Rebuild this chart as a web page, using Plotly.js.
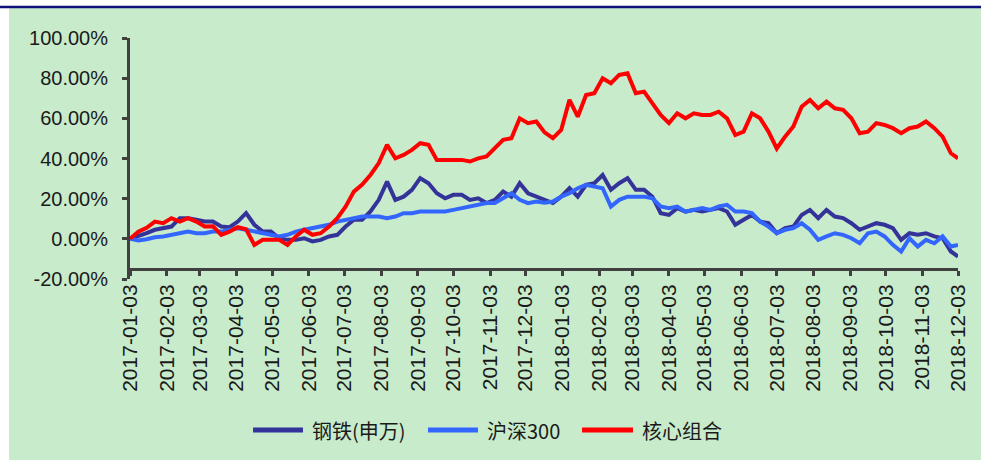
<!DOCTYPE html>
<html>
<head>
<meta charset="utf-8">
<script src="https://cdn.plot.ly/plotly-3.0.1.min.js"></script>
<style>html,body{margin:0;padding:0;background:#fff;}#chart{width:981px;height:460px;}</style>
</head>
<body>
<div id="chart"></div>
<script>
const dates = [
"2017-01-03","2017-01-10","2017-01-17","2017-01-24","2017-01-31","2017-02-07","2017-02-14","2017-02-21","2017-02-28","2017-03-07",
"2017-03-14","2017-03-21","2017-03-28","2017-04-04","2017-04-11","2017-04-18","2017-04-25","2017-05-02","2017-05-09","2017-05-16",
"2017-05-23","2017-05-30","2017-06-06","2017-06-13","2017-06-20","2017-06-27","2017-07-04","2017-07-11","2017-07-18","2017-07-25",
"2017-08-01","2017-08-08","2017-08-15","2017-08-22","2017-08-29","2017-09-05","2017-09-12","2017-09-19","2017-09-26","2017-10-03",
"2017-10-10","2017-10-17","2017-10-24","2017-10-31","2017-11-07","2017-11-14","2017-11-21","2017-11-28","2017-12-05","2017-12-12",
"2017-12-19","2017-12-26","2018-01-02","2018-01-09","2018-01-16","2018-01-23","2018-01-30","2018-02-06","2018-02-13","2018-02-20",
"2018-02-27","2018-03-06","2018-03-13","2018-03-20","2018-03-27","2018-04-03","2018-04-10","2018-04-17","2018-04-24","2018-05-01",
"2018-05-08","2018-05-15","2018-05-22","2018-05-29","2018-06-05","2018-06-12","2018-06-19","2018-06-26","2018-07-03","2018-07-10",
"2018-07-17","2018-07-24","2018-07-31","2018-08-07","2018-08-14","2018-08-21","2018-08-28","2018-09-04","2018-09-11","2018-09-18",
"2018-09-25","2018-10-02","2018-10-09","2018-10-16","2018-10-23","2018-10-30","2018-11-06","2018-11-13","2018-11-20","2018-11-27",
"2018-12-03"];

// 钢铁(申万)
const steel = [
0.0,1.2,2.8,4.5,5.3,6.1,10.3,10.3,9.5,8.6,
8.6,6.1,5.8,8.6,12.8,7.0,3.6,3.6,0.3,-0.5,
-0.5,0.3,-1.3,-0.5,1.2,2.0,6.1,9.5,9.5,13.6,
19.4,28.5,19.4,21.0,24.4,30.2,27.7,22.7,20.2,21.9,
21.9,19.4,20.2,17.8,19.4,23.5,21.0,27.7,22.7,21.0,
19.5,17.8,21.0,25.2,21.0,26.9,27.7,31.8,24.4,27.7,
30.2,24.4,24.4,21.0,12.8,11.9,15.3,13.5,14.4,13.6,
14.4,15.3,13.6,7.0,9.5,11.9,8.6,7.8,2.8,5.3,
6.1,11.9,14.4,10.3,14.4,11.1,10.3,7.8,4.5,6.1,
7.8,7.0,5.3,-0.5,2.8,2.0,2.8,1.2,0.3,-6.3,
-8.8];

// 沪深300
const hs300 = [
0.0,-0.8,-0.2,0.8,1.2,2.0,2.8,3.6,2.8,2.8,
3.6,3.6,4.5,5.3,4.5,3.6,2.8,2.0,1.2,2.0,
3.6,4.5,5.3,6.1,7.0,8.6,9.5,10.3,11.1,11.1,
11.1,10.3,11.1,12.8,12.8,13.6,13.6,13.6,13.6,14.4,
15.3,16.1,16.9,17.8,17.8,20.2,22.7,19.4,17.8,18.6,
18.0,18.6,21.0,22.7,25.2,26.9,26.0,25.2,16.1,19.4,
21.0,21.0,21.0,20.2,16.1,15.3,16.1,13.5,14.4,15.3,
14.4,16.1,16.9,13.6,13.6,12.8,8.6,6.1,2.8,4.5,
5.3,7.8,4.5,-0.5,1.2,2.8,2.0,0.3,-2.2,2.8,
3.6,1.2,-3.0,-6.3,0.3,-3.8,-0.5,-2.2,1.2,-3.8,
-3.0];

// 核心组合
const core = [
0.0,3.5,5.5,8.6,7.8,10.3,8.6,10.3,8.6,6.1,
6.3,2.0,3.6,5.8,4.8,-3.0,-0.5,-0.5,-0.5,-3.0,
1.2,4.5,2.0,2.8,6.1,10.3,16.0,23.5,27.0,31.8,
37.7,46.8,40.1,41.8,44.3,47.6,46.8,39.3,39.3,39.3,
39.3,38.5,40.1,41.0,45.1,49.3,50.1,60.0,57.6,58.4,
53.0,50.1,54.2,69.2,60.8,71.6,72.5,80.0,77.5,81.6,
82.4,72.5,73.3,67.5,61.7,57.6,62.5,60.0,62.5,61.7,
61.7,63.3,60.0,51.7,53.4,62.5,60.0,53.4,45.0,50.9,
55.9,65.8,69.2,65.0,68.3,65.0,64.2,60.0,52.6,53.4,
57.6,56.7,55.1,52.6,55.1,55.9,58.4,55.1,50.9,42.6,
40.1];

const seriesNames = ["钢铁(申万)","沪深300","核心组合"];
const seriesColors = ["#333399","#3366ff","#ff0000"];
const tickDates = ["2017-01-03","2017-02-03","2017-03-03","2017-04-03","2017-05-03","2017-06-03","2017-07-03","2017-08-03",
"2017-09-03","2017-10-03","2017-11-03","2017-12-03","2018-01-03","2018-02-03","2018-03-03","2018-04-03","2018-05-03",
"2018-06-03","2018-07-03","2018-08-03","2018-09-03","2018-10-03","2018-11-03","2018-12-03"];
const yTicks = [-20,0,20,40,60,80,100];
const yTickText = ["-20.00%","0.00%","20.00%","40.00%","60.00%","80.00%","100.00%"];

const values = [steel, hs300, core];
const traces = values.map((v,i)=>({
  x: dates, y: v, type:'scatter', mode:'lines', name: seriesNames[i],
  line:{color: seriesColors[i], width:4}, showlegend:false
}));

const fontFam = "Liberation Sans, Arial, 'Noto Sans CJK SC', sans-serif";
const cjkFam = "'Noto Sans CJK SC', Liberation Sans, sans-serif";
const axisCol = "#404040";

// custom legend (sample lines + real text), placed in paper coordinates
const legendSlots = [
  {x0:0.1486, x1:0.2089, tx:0.2174},
  {x0:0.3599, x1:0.4203, tx:0.4287},
  {x0:0.5459, x1:0.6075, tx:0.6159}
];
const legendY = -0.6266;
const legendShapes = legendSlots.map((s,i)=>({
  type:'line', xref:'paper', yref:'paper', x0:s.x0, x1:s.x1, y0:legendY, y1:legendY,
  line:{color:seriesColors[i], width:5}
}));
const legendAnnots = legendSlots.map((s,i)=>({
  xref:'paper', yref:'paper', x:s.tx, y:legendY, xanchor:'left', yanchor:'middle',
  text:seriesNames[i], showarrow:false, font:{family:cjkFam, size:20, color:"#1a1a1a"}
}));

const layout = {
  width:981, height:460,
  margin:{l:130, r:23, t:38, b:181, pad:0},
  paper_bgcolor:"#c8ebcc",
  plot_bgcolor:"rgba(0,0,0,0)",
  showlegend:false,
  font:{family:fontFam, color:"#1a1a1a", size:20},
  xaxis:{
    type:'date', range:["2017-01-03","2018-12-03"],
    tickvals: tickDates, ticktext: tickDates, tickangle:-90,
    showgrid:false, zeroline:false,
    showline:true, linecolor:axisCol, linewidth:3,
    ticks:'outside', ticklen:5, tickwidth:3, tickcolor:axisCol,
    anchor:'free', position:0.0415,
    tickfont:{size:21, family:fontFam, color:"#1a1a1a"}
  },
  yaxis:{
    range:[-20,100], tickvals:yTicks, ticktext:yTickText,
    showgrid:false, zeroline:false,
    showline:true, linecolor:axisCol, linewidth:3,
    ticks:'outside', ticklen:5, tickwidth:3, tickcolor:axisCol,
    ticklabelstandoff:10,
    tickfont:{size:20, family:fontFam, color:"#1a1a1a"}
  },
  annotations: legendAnnots,
  shapes:[
    {type:'rect', xref:'paper', yref:'paper', x0:-0.2, x1:-0.1461, y0:-0.9, y1:1.2, fillcolor:'#ffffff', line:{width:0}, layer:'above'},
    {type:'rect', xref:'paper', yref:'paper', x0:-0.2, x1:1.1, y0:1.1286, y1:1.2, fillcolor:'#ffffff', line:{width:0}, layer:'above'},
    {type:'line', xref:'paper', yref:'paper', x0:-0.2, x1:1.1, y0:1.1286, y1:1.1286, line:{color:'#10107a', width:2.5}, layer:'above'}
  ].concat(legendShapes)
};

Plotly.newPlot('chart', traces, layout, {displayModeBar:false, staticPlot:true});
</script>
</body>
</html>
